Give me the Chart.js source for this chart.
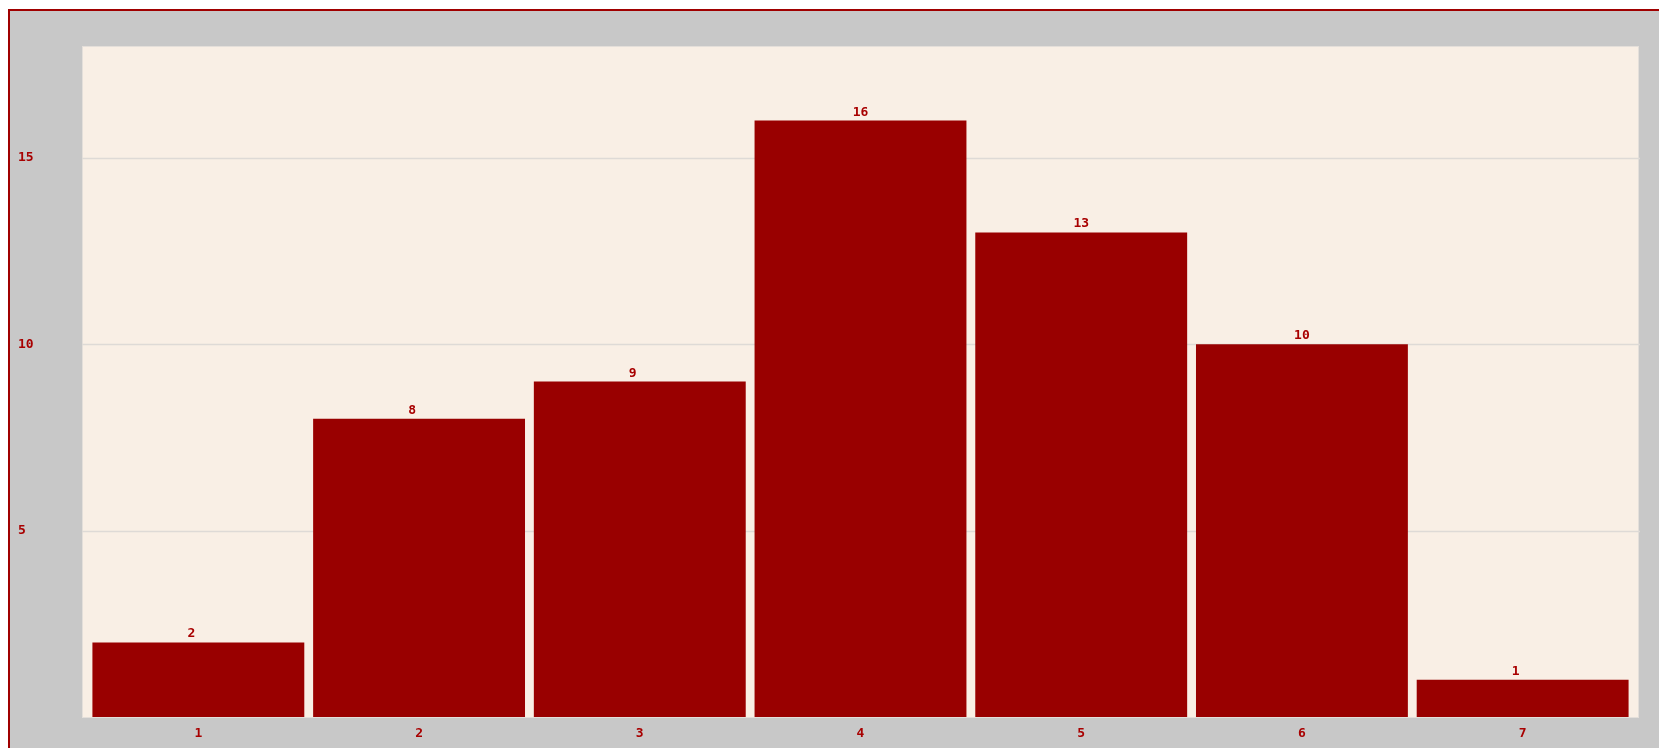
<!DOCTYPE html>
<html>
<head>
<meta charset="utf-8">
<script src="https://cdn.jsdelivr.net/npm/chart.js@4"></script>
<style>
  html, body { margin: 0; padding: 0; background: #fff; }
  #frame {
    position: absolute; left: 8px; top: 9px;
    width: 1651px; height: 739px;
    background: #c8c8c8;
    border-top: 2px solid #a00000;
    border-left: 2px solid #a00000;
  }
  #wrap { position: absolute; left: 0; top: 0; width: 1649px; height: 737px; }
</style>
</head>
<body>
<div id="frame"><div id="wrap"><canvas id="myChart"></canvas></div></div>
<script>
// values
const categories = ['1', '2', '3', '4', '5', '6', '7'];
const counts = [2, 8, 9, 16, 13, 10, 1];
const yTicks = [5, 10, 15];

const red = '#990000';
const textRed = '#a80000';
const tickFont = { family: 'DejaVu Sans Mono', size: 13, weight: 'bold' };

// cream plot background + horizontal grid lines, a bit wider than the bars
const plotBg = {
  id: 'plotBg',
  beforeDatasetsDraw(chart) {
    const { ctx, chartArea: a, scales } = chart;
    const l = a.left - 6, r = a.right + 6;
    ctx.save();
    ctx.fillStyle = '#f9efe5';
    ctx.fillRect(l, a.top, r - l, a.bottom - a.top);
    ctx.strokeStyle = '#e4dfda';
    ctx.lineWidth = 1;
    ctx.strokeRect(l + 0.5, a.top + 0.5, r - l - 1, a.bottom - a.top);
    ctx.strokeStyle = '#dedad6';
    ctx.lineWidth = 1.5;
    yTicks.forEach(v => {
      const y = Math.round(scales.y.getPixelForValue(v)) + 0.5;
      ctx.beginPath();
      ctx.moveTo(l, y);
      ctx.lineTo(r + 1, y);
      ctx.stroke();
    });
    ctx.restore();
  }
};

// value above each bar (single digits sit a little left, as in the original)
const barLabels = {
  id: 'barLabels',
  afterDatasetsDraw(chart) {
    const { ctx } = chart;
    const meta = chart.getDatasetMeta(0);
    ctx.save();
    ctx.font = 'bold 13px "DejaVu Sans Mono"';
    ctx.fillStyle = textRed;
    ctx.textAlign = 'center';
    ctx.textBaseline = 'alphabetic';
    meta.data.forEach((bar, i) => {
      const txt = String(counts[i]);
      const dx = txt.length === 1 ? -7 : 0;
      ctx.fillText(txt, bar.x + dx, bar.y - 5);
    });
    ctx.restore();
  }
};

new Chart(document.getElementById('myChart'), {
  type: 'bar',
  data: {
    labels: categories,
    datasets: [{
      data: counts,
      backgroundColor: red,
      borderWidth: 0,
      categoryPercentage: 0.96,
      barPercentage: 1.0
    }]
  },
  options: {
    responsive: true,
    maintainAspectRatio: false,
    animation: false,
    layout: { padding: { left: 8, right: 26, top: 35, bottom: 0 } },
    plugins: { legend: { display: false }, tooltip: { enabled: false } },
    scales: {
      x: {
        grid: { display: false },
        border: { display: false },
        ticks: { color: textRed, font: tickFont, padding: 1 },
        afterFit(s) { s.height = 31; }
      },
      y: {
        min: 0,
        max: 18,
        grid: { display: false },
        border: { display: false },
        afterBuildTicks(s) { s.ticks = yTicks.map(v => ({ value: v })); },
        ticks: {
          color: textRed,
          font: tickFont,
          crossAlign: 'far',
          padding: 4
        },
        afterFit(s) { s.width = 70; }
      }
    }
  },
  plugins: [plotBg, barLabels]
});
</script>
</body>
</html>
